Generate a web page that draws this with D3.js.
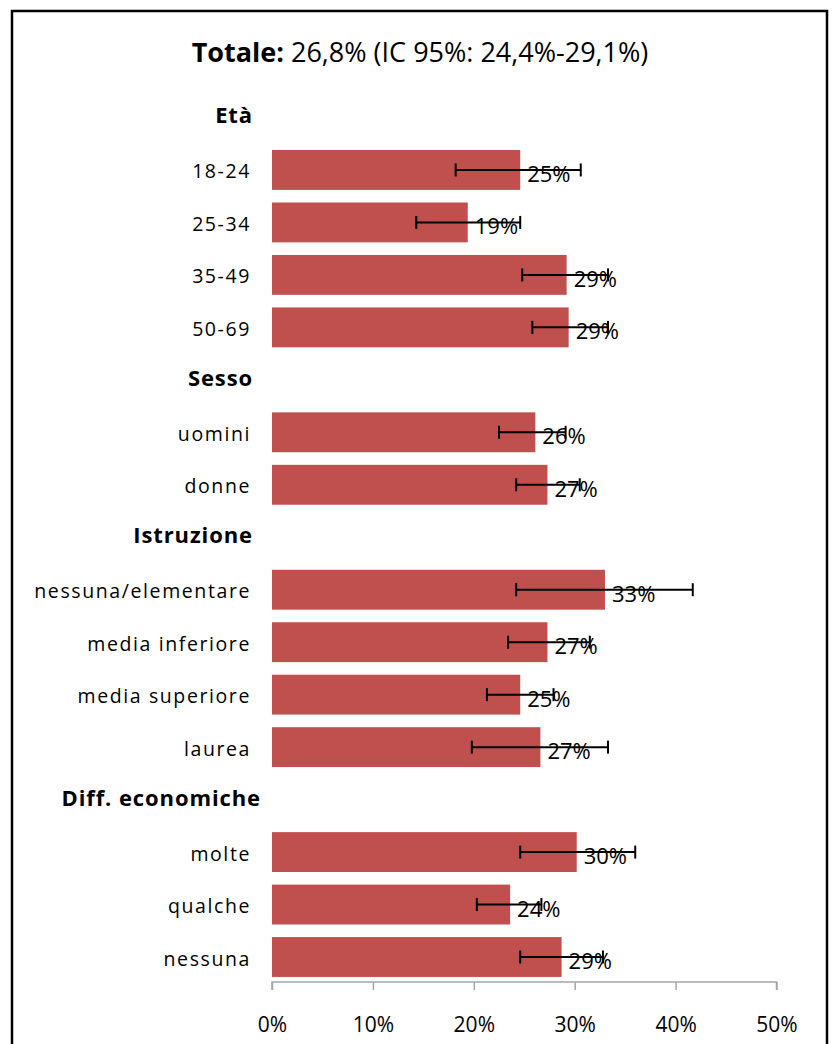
<!DOCTYPE html>
<html>
<head>
<meta charset="utf-8">
<script src="https://cdn.jsdelivr.net/npm/d3@7"></script>
<style>
  html, body { margin: 0; padding: 0; background: #fff; }
  svg { display: block; }
  text { font-family: "Open Sans", sans-serif; fill: #000; }
</style>
</head>
<body>
<svg id="chart" width="833" height="1044"></svg>
<script>
// ---- data ----
const rows = ["Età", "18-24", "25-34", "35-49", "50-69",
  "Sesso", "uomini", "donne",
  "Istruzione", "nessuna/elementare", "media inferiore", "media superiore", "laurea",
  "Diff. economiche", "molte", "qualche", "nessuna"];
const headers = ["Età", "Sesso", "Istruzione", "Diff. economiche"];
const categories = ["18-24", "25-34", "35-49", "50-69", "uomini", "donne",
  "nessuna/elementare", "media inferiore", "media superiore", "laurea",
  "molte", "qualche", "nessuna"];
const values = [24.6, 19.4, 29.2, 29.4, 26.1, 27.3, 33.0, 27.3, 24.6, 26.6, 30.2, 23.6, 28.7];
const lower  = [18.2, 14.3, 24.8, 25.8, 22.5, 24.2, 24.2, 23.4, 21.3, 19.8, 24.6, 20.3, 24.6];
const upper  = [30.6, 24.6, 33.3, 33.3, 29.1, 30.5, 41.7, 31.5, 27.9, 33.3, 36.0, 26.7, 32.8];
const xTicks = [0, 10, 20, 30, 40, 50];
const titleBold = "Totale:";
const titleRest = " 26,8% (IC 95%: 24,4%-29,1%)";

// ---- layout ----
const svg = d3.select("#chart");
const W = 833, H = 1044;

svg.append("rect")
  .attr("x", 12).attr("y", 11).attr("width", 815).attr("height", H + 10)
  .attr("fill", "none").attr("stroke", "#000").attr("stroke-width", 2.5);

const x = d3.scaleLinear().domain([0, 50]).range([272, 776.5]);
const y = d3.scaleBand().domain(rows).range([92.3, 982.2])
  .paddingInner(0.24).paddingOuter(0.1);

const data = categories.map((c, i) => ({ c, v: values[i], lo: lower[i], hi: upper[i] }));

// title
const title = svg.append("text")
  .attr("x", 420).attr("y", 62)
  .attr("text-anchor", "middle")
  .attr("font-size", 27);
title.append("tspan").attr("font-weight", "bold").text(titleBold);
title.append("tspan").text(titleRest);

// bars
svg.append("g").selectAll("rect").data(data).join("rect")
  .attr("x", x(0))
  .attr("y", d => y(d.c))
  .attr("width", d => x(d.v) - x(0))
  .attr("height", y.bandwidth())
  .attr("fill", "#c0504d");

// value labels
svg.append("g").selectAll("text").data(data).join("text")
  .attr("x", d => x(d.v) + 7)
  .attr("y", d => y(d.c) + y.bandwidth() / 2 + 3)
  .attr("dominant-baseline", "central")
  .attr("font-size", 22)
  .text(d => Math.round(d.v) + "%");

// error bars
const eb = svg.append("g").attr("stroke", "#000").attr("stroke-width", 2);
eb.selectAll("line.h").data(data).join("line").attr("class", "h")
  .attr("x1", d => x(d.lo)).attr("x2", d => x(d.hi))
  .attr("y1", d => y(d.c) + y.bandwidth() / 2)
  .attr("y2", d => y(d.c) + y.bandwidth() / 2);
eb.selectAll("line.l").data(data).join("line").attr("class", "l")
  .attr("x1", d => x(d.lo)).attr("x2", d => x(d.lo))
  .attr("y1", d => y(d.c) + y.bandwidth() / 2 - 6.5)
  .attr("y2", d => y(d.c) + y.bandwidth() / 2 + 6.5);
eb.selectAll("line.r").data(data).join("line").attr("class", "r")
  .attr("x1", d => x(d.hi)).attr("x2", d => x(d.hi))
  .attr("y1", d => y(d.c) + y.bandwidth() / 2 - 6.5)
  .attr("y2", d => y(d.c) + y.bandwidth() / 2 + 6.5);

// category labels
svg.append("g").selectAll("text").data(rows).join("text")
  .attr("x", d => headers.includes(d) ? (d === "Diff. economiche" ? 261 : 253) : 251)
  .attr("y", d => y(d) + y.bandwidth() / 2 + (headers.includes(d) ? -3 : 1))
  .attr("text-anchor", "end")
  .attr("dominant-baseline", "central")
  .attr("font-size", d => headers.includes(d) ? 22 : 19.5)
  .attr("font-weight", d => headers.includes(d) ? "bold" : "normal")
  .attr("letter-spacing", d => headers.includes(d) ? 0.9 : 1.6)
  .text(d => d);

// x axis
const axis = svg.append("g").attr("transform", "translate(0,982)")
  .call(d3.axisBottom(x).tickValues(xTicks).tickSize(8).tickPadding(27).tickFormat(d => d + "%"));
axis.select(".domain").attr("stroke", "#a6a6a6").attr("stroke-width", 1.5)
  .attr("d", `M${x(0)},8V0H${x(50)}V8`);
axis.selectAll(".tick line").attr("stroke", "#a6a6a6").attr("stroke-width", 1.5);
axis.selectAll(".tick text").attr("font-size", 21).attr("font-family", "Open Sans, sans-serif").attr("fill", "#000");
</script>
</body>
</html>
